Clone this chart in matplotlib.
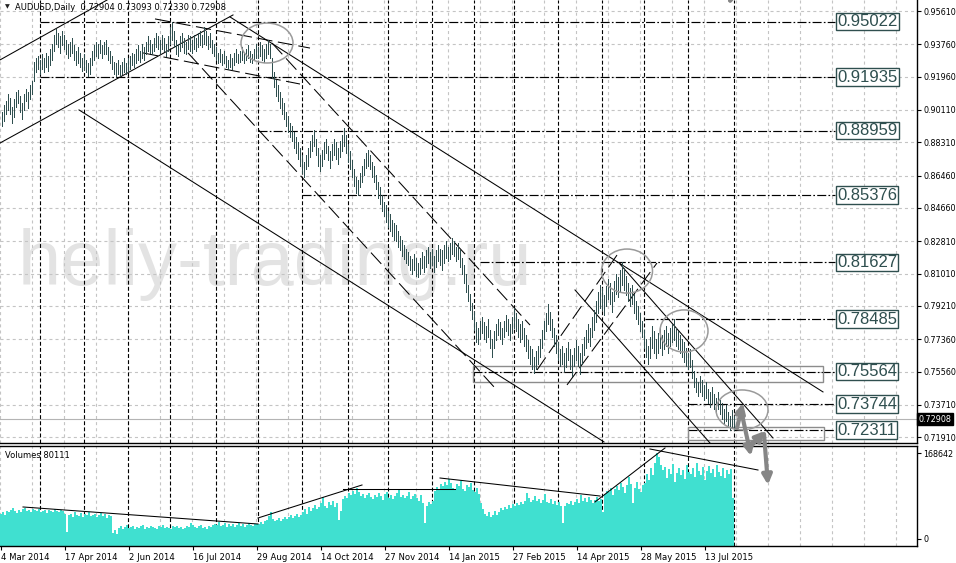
"""
AUDUSD daily chart with hand-drawn trend analysis (MT4 style screenshot remake).
Output: out.png (956 x 563 px)
"""

import matplotlib
matplotlib.use("Agg")
import matplotlib.pyplot as plt
import matplotlib.transforms as mtrans
from matplotlib.patches import Ellipse, Rectangle
import numpy as np

plt.rcParams["lines.scale_dashes"] = False
plt.rcParams["font.family"] = "DejaVu Sans"

# ── Price data: daily bars, 4 Mar 2014 .. 24 Jul 2015, price x 1e4 ────────
HIGH_PIPS = [
    9000, 9040, 9060, 9100, 9080, 9030, 9070, 9110, 9120, 9090, 9050, 9100, 9130, 9110, 9150, 9170,
    9280, 9300, 9310, 9290, 9320, 9300, 9330, 9310, 9350, 9380,
    9430, 9460, 9440, 9420, 9450, 9430,
    9400, 9380, 9390, 9410, 9370, 9340, 9360, 9330, 9300, 9320, 9290, 9270, 9300,
    9340, 9370, 9390, 9380, 9400, 9370, 9390, 9400, 9360, 9340, 9310,
    9280, 9270, 9290, 9260, 9280, 9300, 9270, 9300,
    9310, 9330, 9320, 9350, 9370, 9340, 9380, 9360,
    9390, 9420, 9400, 9380, 9410, 9440, 9420, 9400, 9430, 9410, 9380, 9420,
    9470, 9502, 9450,
    9400, 9380, 9420, 9440, 9410, 9390, 9430, 9420,
    9400, 9430, 9410, 9440, 9450, 9430, 9470, 9450, 9420, 9440, 9400, 9380,
    9360, 9330, 9350, 9320, 9340, 9310, 9290, 9320, 9300, 9330,
    9350, 9320, 9340, 9360, 9330, 9350, 9370, 9340, 9320, 9350, 9380,
    9360, 9390, 9370, 9350, 9380, 9400, 9380,
    9300,
    9220, 9180, 9150, 9110, 9080, 9050, 9000, 8980, 8940, 8920, 8890,
    8860, 8830, 8800, 8760, 8720,
    8760, 8800, 8840, 8870, 8900, 8850, 8800, 8760, 8790, 8830, 8850, 8810, 8780, 8820, 8850, 8830,
    8800, 8840, 8870, 8910, 8870, 8820,
    8780, 8730, 8680, 8640, 8620,
    8660, 8700, 8740, 8770, 8790, 8760, 8720, 8700, 8650,
    8610, 8580, 8540, 8500, 8480, 8450, 8430, 8400, 8380,
    8370, 8340, 8310, 8290, 8260, 8240, 8220,
    8200, 8180, 8210, 8190, 8160, 8190, 8220, 8200, 8230, 8250, 8220, 8240,
    8200, 8230, 8260, 8240, 8230, 8260, 8280, 8250, 8270, 8300, 8280, 8250, 8270, 8230,
    8190, 8150, 8100, 8040, 7990, 7940, 7890, 7830,
    7800, 7840, 7860, 7830, 7810, 7850, 7790, 7740, 7780, 7820, 7850, 7830, 7800, 7840, 7870, 7850,
    7820, 7860, 7910, 7880, 7850, 7820, 7840, 7800,
    7760, 7730, 7700, 7680, 7640, 7670, 7700,
    7740, 7790, 7840, 7880, 7930, 7890, 7850, 7800,
    7760, 7720, 7680, 7700, 7660, 7690, 7720, 7680, 7650, 7690, 7730, 7700, 7660,
    7710, 7750, 7790, 7820, 7800, 7860, 7900, 7950, 8000, 8040,
    8020, 7980, 8030, 8070, 8050, 8000, 8060, 8100, 8080, 8120, 8163,
    8130, 8090, 8050, 8020, 8040, 7990, 7950, 7920, 7880, 7840,
    7790, 7740, 7700, 7750,
    7810, 7780, 7740, 7770, 7800, 7760, 7790, 7810, 7770, 7800, 7820, 7849, 7800, 7780, 7760, 7740, 7720,
    7690, 7660, 7680, 7620, 7560,
    7520, 7500, 7530, 7510, 7480, 7500, 7460, 7440, 7470, 7430, 7410, 7440,
    7400, 7380, 7350, 7370, 7330, 7310, 7340, 7309,
]
LOW_PIPS = [
    8920, 8950, 8990, 9010, 8990, 8940, 8970, 9030, 9050, 9000, 8960, 9010, 9060, 9020, 9070, 9100,
    9170, 9220, 9240, 9210, 9240, 9220, 9250, 9230, 9260, 9290,
    9340, 9380, 9360, 9330, 9370, 9350,
    9320, 9300, 9310, 9330, 9290, 9260, 9270, 9250, 9230, 9240, 9220, 9200, 9210,
    9260, 9290, 9310, 9300, 9330, 9300, 9320, 9320, 9290, 9270, 9240,
    9210, 9200, 9210, 9200, 9210, 9220, 9210, 9220,
    9240, 9260, 9250, 9270, 9290, 9280, 9300, 9290,
    9320, 9340, 9330, 9320, 9340, 9360, 9350, 9330, 9350, 9340, 9310, 9340,
    9380, 9400, 9360,
    9320, 9310, 9340, 9360, 9330, 9320, 9350, 9340,
    9330, 9350, 9340, 9360, 9370, 9360, 9380, 9370, 9350, 9360, 9330, 9310,
    9290, 9270, 9280, 9260, 9270, 9250, 9240, 9250, 9240, 9260,
    9280, 9270, 9280, 9290, 9270, 9290, 9300, 9280, 9270, 9290, 9300,
    9300, 9310, 9290, 9280, 9300, 9320, 9300,
    9190,
    9140, 9090, 9060, 9020, 8990, 8960, 8920, 8890, 8860, 8840, 8800,
    8770, 8740, 8700, 8660, 8640,
    8680, 8700, 8750, 8780, 8810, 8760, 8700, 8670, 8700, 8740, 8770, 8730, 8690, 8730, 8760, 8740,
    8710, 8750, 8780, 8810, 8770, 8720,
    8680, 8640, 8590, 8550, 8540,
    8580, 8610, 8650, 8690, 8700, 8680, 8640, 8610, 8570,
    8520, 8490, 8450, 8420, 8390, 8360, 8340, 8310, 8290,
    8280, 8250, 8230, 8200, 8180, 8160, 8150,
    8120, 8100, 8120, 8090, 8080, 8100, 8130, 8110, 8140, 8160, 8130, 8150,
    8110, 8140, 8170, 8150, 8120, 8160, 8190, 8170, 8180, 8210, 8200, 8170, 8180, 8140,
    8100, 8050, 8000, 7950, 7900, 7850, 7790, 7720,
    7710, 7740, 7770, 7740, 7720, 7750, 7690, 7640, 7690, 7730, 7760, 7740, 7710, 7750, 7780, 7760,
    7730, 7770, 7800, 7780, 7750, 7720, 7740, 7700,
    7670, 7630, 7600, 7570, 7550, 7570, 7600,
    7640, 7690, 7740, 7780, 7820, 7790, 7750, 7700,
    7660, 7620, 7590, 7600, 7560, 7580, 7620, 7570, 7530, 7590, 7620, 7590, 7540,
    7600, 7650, 7690, 7720, 7700, 7750, 7790, 7830, 7880, 7910,
    7900, 7870, 7920, 7960, 7930, 7890, 7950, 7990, 7970, 8000, 8040,
    8010, 7980, 7950, 7920, 7930, 7880, 7850, 7820, 7780, 7750,
    7690, 7640, 7600, 7630,
    7690, 7660, 7630, 7660, 7690, 7650, 7680, 7700, 7660, 7700, 7720, 7730, 7700, 7680, 7660, 7640, 7610,
    7590, 7570, 7580, 7520, 7470,
    7440, 7420, 7440, 7420, 7400, 7410, 7380, 7360, 7380, 7350, 7330, 7350,
    7320, 7290, 7270, 7280, 7250, 7230, 7250, 7233,
]
# tick volume per bar, thousands
VOLUME_K = [
    50, 53, 48, 55, 52, 57, 61, 54, 51, 56, 53, 58,
    60, 55, 57, 52, 59, 56, 54, 58, 53, 55, 57, 51, 56, 54, 52, 58, 55, 53, 57, 54,
    50, 14,
    47, 50, 44, 52, 48, 46, 51, 43, 49, 47, 53, 45, 48, 50, 44, 47, 51, 46, 49, 42, 47, 45,
    12, 18, 10,
    22, 25, 20, 24, 27, 21, 23, 26, 19, 24, 22, 25, 27, 20, 23, 21, 26, 24, 22, 19,
    25, 23, 27, 21, 24, 22, 20, 26, 23, 25, 21, 24, 19, 22, 26, 24, 31, 27, 23, 21,
    25, 28, 22, 24, 20, 26, 23, 27,
    30, 27, 33, 25, 28, 31, 24, 29, 26, 30, 23, 27, 32, 26, 29, 24, 28, 31, 27, 25, 29, 30,
    30, 33, 29, 36, 38, 45, 52, 40, 35, 38, 42, 36, 40, 44, 39, 43, 47, 41, 45, 50, 44, 48,
    52, 58, 50, 62, 55, 60, 67, 58, 63, 70, 82, 65, 60, 72, 66, 75, 62, 70, 38, 55,
    78, 85, 80, 90, 86, 94, 88, 100, 92, 84, 89, 80, 86, 91, 83, 78, 87, 82, 90, 85,
    76, 88, 93, 81, 86, 79, 84, 90, 96, 83, 87, 80, 85, 92, 78, 84, 88, 81, 74, 86,
    70, 31, 65, 72, 68, 75,
    95, 102, 98, 108, 104, 112, 106, 118, 110, 100, 96, 107, 103, 113, 99, 94, 105, 101, 109, 97,
    92, 100, 88,
    70, 58, 50, 46, 52, 44, 48, 55, 47, 53, 60, 56, 62, 58, 66, 61, 68,
    64, 70, 66, 72, 68, 75, 90, 80, 72, 77, 85, 74, 79, 70, 76, 88, 73, 71, 78, 69, 74, 67, 72, 65, 31,
    64, 70, 68, 74, 66, 72, 78, 70, 86, 75, 80, 72, 83, 77, 70, 76, 82, 74, 79, 53,
    88, 95, 92, 100, 86, 98, 104, 96, 110, 102, 90, 106, 122, 108, 70, 100, 112, 98, 93, 105,
    110, 128, 115, 140, 125, 150, 169, 160, 145,
    135, 142, 120, 138, 128, 148, 112, 130, 140, 125, 136, 118, 145, 132, 127, 139, 122, 150, 134, 126,
    141, 116, 133, 144, 129, 137, 121, 146, 131, 124, 140, 119, 135, 128, 138,
    80,
]

DATE_LABELS = ["4 Mar 2014", "17 Apr 2014", "2 Jun 2014", "16 Jul 2014", "29 Aug 2014",
               "14 Oct 2014", "27 Nov 2014", "14 Jan 2015", "27 Feb 2015", "14 Apr 2015",
               "28 May 2015", "13 Jul 2015"]
DATE_LABEL_BARS = [0, 32, 64, 96, 128, 160, 192, 224, 256, 288, 320, 352]
MONTH_START_BARS = [20, 42, 64, 85, 108, 129, 151, 174, 194, 216, 237, 257, 279, 301, 322, 344, 367]

PRICE_TICKS = [0.95610, 0.93760, 0.91960, 0.90110, 0.88310, 0.86460, 0.84660,
               0.82810, 0.81010, 0.79210, 0.77360, 0.75560, 0.73710, 0.71910]
LAST_PRICE = 0.72908

# support / resistance levels and the bar where each line starts
LEVELS = [0.95022, 0.91935, 0.88959, 0.85376, 0.81627, 0.78485, 0.75564, 0.73744, 0.72311]
LEVEL_START = [19.5, 19.5, 128.5, 150.5, 239.5, 322.0, 236.0, 343.5, 343.5]

# trend lines as ((bar, price), (bar, price))
SOLID_LINES = [
    ((-0.5, 0.9289), (53.0, 0.9622)),
    ((-0.5, 0.8827), (116.0, 0.9539)),
    ((114.5, 0.9528), (411.0, 0.7443)),
    ((39.0, 0.9011), (301.5, 0.7165)),
    ((309.5, 0.8154), (386.0, 0.7187)),
    ((287.0, 0.8010), (354.5, 0.7159)),
]
DASHED_LINES = [
    ((77.0, 0.9517), (154.5, 0.9355)),
    ((71.0, 0.9328), (149.5, 0.9155)),
    ((135.5, 0.9383), (264.5, 0.7815)),
    ((93.5, 0.9328), (247.0, 0.7465)),
    ((268.0, 0.7565), (308.0, 0.8204)),
    ((283.0, 0.7482), (328.0, 0.8160)),
]
# volume trend lines ((bar, vol_k), (bar, vol_k))
VOLUME_LINES = [
    ((11.0, 62.8), (128.5, 29.4)),
    ((128.5, 41.2), (180.5, 105.9)),
    ((171.0, 98.1), (227.0, 98.1)),
    ((219.5, 119.6), (299.5, 84.3)),
    ((297.0, 72.6), (332.0, 178.5)),
    ((324.5, 176.5), (378.5, 135.3)),
]
# circled areas: (bar, price, width in bars, height in price)
CIRCLES = [
    (133.0, 0.9383, 26.0, 0.0222),
    (313.0, 0.8115, 25.5, 0.0245),
    (341.5, 0.7782, 24.0, 0.0234),
    (370.5, 0.7343, 26.0, 0.0222),
]
# price zones: (bar0, bar1, low, high)
ZONES = [
    (236.0, 411.0, 0.7498, 0.7587),
    (343.5, 411.5, 0.7176, 0.7248),
]
# forecast arrows: (start bar, start price, end bar, end price)
ARROWS = [
    (368.0, 0.7243, 371.0, 0.7382),
    (370.0, 0.7343, 375.0, 0.7087),
    (375.0, 0.7142, 382.0, 0.7226),
    (381.5, 0.7209, 383.5, 0.6926),
    (366.5, 0.9700, 364.0, 0.9594),
]

VOL_TICKS = [0, 168642]

# ── Style ──────────────────────────────────────────────────────────────────
BAR_COLOR = "#2F4F4F"
VOL_COLOR = "#40E0D0"
GRID_COLOR = "#C4C4C4"
MARK_GREY = "#9A9A9A"
ARROW_GREY = "#868686"
LABEL_COLOR = "#2F4F4F"

W, H = 956, 563
PLOT_RIGHT = 917
XMIN, XMAX = -0.5, 458.0
PMIN, PMAX = 0.71591, 0.96222
VMIN, VMAX = -13727, 182373
AXIS_FS = 5.8

fig = plt.figure(figsize=(W / 100, H / 100), dpi=100)
ax_p = fig.add_axes([0, 1 - 443 / H, PLOT_RIGHT / W, 443 / H])
ax_v = fig.add_axes([0, 1 - 546 / H, PLOT_RIGHT / W, 100 / H])
ax_p.set_zorder(3)
ax_p.patch.set_alpha(0)

for ax in (ax_p, ax_v):
    ax.set_xlim(XMIN, XMAX)
    for side in ("left", "top"):
        ax.spines[side].set_visible(False)
    ax.spines["right"].set_linewidth(1.0)
    ax.spines["bottom"].set_linewidth(1.0)
    for b in range(0, 460, 16):
        ax.axvline(b - 0.5, color=GRID_COLOR, lw=0.8, ls=(0, (2.2, 2.2)), zorder=0.6)
    for b in MONTH_START_BARS:
        ax.axvline(b - 0.5, color="black", lw=0.8, ls=(0, (2.8, 1.6)), zorder=1)
ax_v.spines["top"].set_visible(True)
ax_v.spines["top"].set_linewidth(1.0)

# ── Price panel ────────────────────────────────────────────────────────────
ax_p.set_ylim(PMIN, PMAX)
ax_p.set_yticks(PRICE_TICKS)
ax_p.set_yticklabels([f"{t:.5f}" for t in PRICE_TICKS])
ax_p.yaxis.tick_right()
ax_p.tick_params(axis="y", length=3, width=0.8, labelsize=AXIS_FS, pad=1.5)
ax_p.tick_params(axis="x", bottom=False, labelbottom=False)
ax_p.yaxis.grid(True, color=GRID_COLOR, lw=0.8, ls=(0, (2.2, 2.2)))
ax_p.set_axisbelow(True)

ax_p.text(8.5, 0.8038, "heliy-trading.ru", family="Liberation Sans", fontsize=56,
          color="#E3E3E3", va="baseline", ha="left", zorder=0.4)

ax_p.axhline(LAST_PRICE, color="#B4B4B4", lw=0.8, zorder=1.5)

idx = np.arange(len(HIGH_PIPS))
ax_p.vlines(idx + 0.25, np.array(LOW_PIPS) / 1e4, np.array(HIGH_PIPS) / 1e4,
            color=BAR_COLOR, lw=0.6, antialiased=False, snap=True, zorder=4)

for lvl, start in zip(LEVELS, LEVEL_START):
    ax_p.plot([start, 417.0], [lvl, lvl], color="black", lw=0.85,
              ls=(0, (6.5, 1.6, 1.2, 1.6)), zorder=2)
    ax_p.text(418.0, lvl, f"{lvl:.5f}", family="Liberation Sans", fontsize=12,
              color=LABEL_COLOR, ha="left", va="center", zorder=6,
              bbox=dict(boxstyle="square,pad=0.08", fc="white", ec=LABEL_COLOR, lw=1.0))

for (b0, p0), (b1, p1) in SOLID_LINES:
    ax_p.plot([b0, b1], [p0, p1], color="black", lw=0.75, zorder=3)
for (b0, p0), (b1, p1) in DASHED_LINES:
    ax_p.plot([b0, b1], [p0, p1], color="black", lw=0.75, ls=(0, (11, 4)), zorder=3)

for b0, b1, lo, hi in ZONES:
    ax_p.add_patch(Rectangle((b0, lo), b1 - b0, hi - lo, fill=False,
                             ec="#8C8C8C", lw=1.0, zorder=2.5))
for b, p, w, h in CIRCLES:
    ax_p.add_patch(Ellipse((b, p), w, h, fill=False, ec=MARK_GREY, lw=1.1, zorder=5))

for b0, p0, b1, p1 in ARROWS:
    ann = ax_p.annotate("", xy=(b1, p1), xytext=(b0, p0), annotation_clip=False, zorder=7,
                        arrowprops=dict(arrowstyle="-|>", color=ARROW_GREY, lw=3.0,
                                        mutation_scale=14, shrinkA=0, shrinkB=0))
    ann.arrow_patch.set_clip_on(False)

blend = mtrans.blended_transform_factory(ax_p.transAxes, ax_p.transData)
ax_p.text(1.002, LAST_PRICE, f"{LAST_PRICE:.5f}", transform=blend, fontsize=AXIS_FS,
          color="white", ha="left", va="center", clip_on=False, zorder=8,
          bbox=dict(boxstyle="square,pad=0.2", fc="black", ec="black"))

# ── Volume panel ───────────────────────────────────────────────────────────
ax_v.set_ylim(VMIN, VMAX)
vols = np.array(VOLUME_K) * 1000.0
ax_v.bar(idx, vols - VMIN, bottom=VMIN, width=1.0, color=VOL_COLOR, lw=0, zorder=2)
for (b0, v0), (b1, v1) in VOLUME_LINES:
    ax_v.plot([b0, b1], [v0 * 1000, v1 * 1000], color="black", lw=0.75, zorder=3)

ax_v.yaxis.tick_right()
ax_v.set_yticks(VOL_TICKS)
ax_v.set_yticklabels([str(v) for v in VOL_TICKS])
ax_v.tick_params(axis="y", length=3, width=0.8, labelsize=AXIS_FS, pad=1.5)
ax_v.set_xticks(DATE_LABEL_BARS)
ax_v.set_xticklabels(DATE_LABELS)
ax_v.tick_params(axis="x", length=3, width=0.8, labelsize=6.1, pad=2)
for lab in ax_v.get_xticklabels():
    lab.set_horizontalalignment("left")

# ── Header texts ───────────────────────────────────────────────────────────
fig.text(5 / W, 1 - 7 / H, "\u25BC", fontsize=4.5, color="#202020", va="center")
fig.text(15 / W, 1 - 7 / H, "AUDUSD,Daily  0.72904 0.73093 0.72330 0.72908",
         fontsize=6, color="black", va="center")
fig.text(5 / W, 1 - 455 / H, "Volumes 80111", fontsize=6, color="black", va="center")

fig.savefig("out.png", dpi=100, facecolor="white")
